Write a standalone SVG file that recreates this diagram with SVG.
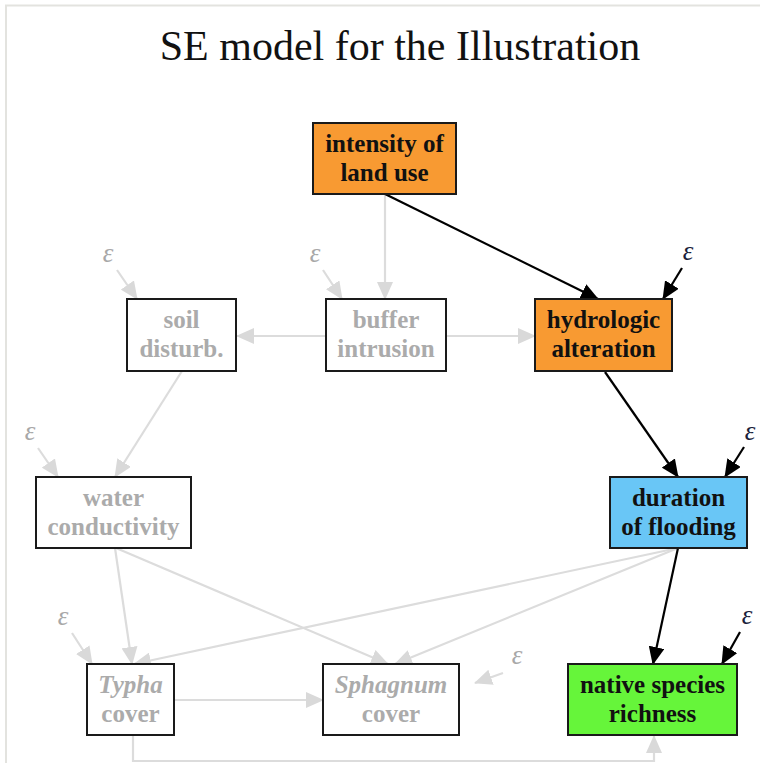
<svg xmlns="http://www.w3.org/2000/svg" width="760" height="763" viewBox="0 0 760 763">
<style>
.bg{fill:#ffffff}
.frame{stroke:#e3e3df;stroke-width:2;fill:none}
.title{font-family:"Liberation Serif",serif;font-size:42px;fill:#111111}
.box{stroke:#1a1a1a;stroke-width:2}
.lbl{font-family:"Liberation Serif",serif;font-size:25px;font-weight:bold;text-anchor:middle}
.dark{fill:#111111}
.grey{fill:#ababab}
.it{font-style:italic}
.eps{font-family:"Liberation Serif",serif;font-size:27px;font-style:italic;text-anchor:middle}
.epsk{fill:#1b1f3b}
.epsg{fill:#a8a8a8}
.ck{stroke:#000000;stroke-width:2.2;fill:none;marker-end:url(#ak)}
.cg{stroke:#dcdcdc;stroke-width:2.2;fill:none;marker-end:url(#ag)}
</style>
<defs>
<marker id="ak" markerUnits="userSpaceOnUse" markerWidth="18" markerHeight="16" viewBox="0 0 18 16" refX="17" refY="8" orient="auto"><path d="M0,0 L18,8 L0,16 z" fill="#000000"/></marker>
<marker id="ag" markerUnits="userSpaceOnUse" markerWidth="18" markerHeight="16" viewBox="0 0 18 16" refX="17" refY="8" orient="auto"><path d="M0,0 L18,8 L0,16 z" fill="#d9d9d9"/></marker>
</defs>
<rect class="bg" x="0" y="0" width="760" height="763"/>
<path class="frame" d="M6,763 V5.5 H760"/>
<text class="title" x="400" y="60" text-anchor="middle">SE model for the Illustration</text>

<g id="connectors">
<path class="cg" d="M385,194 L385,299"/>
<path class="cg" d="M326,336 L237,336"/>
<path class="cg" d="M446,336 L535,336"/>
<path class="cg" d="M182,371 L115,477"/>
<path class="cg" d="M115,548 L132,664"/>
<path class="cg" d="M116,548 L388,664"/>
<path class="cg" d="M678,548 L134,664"/>
<path class="cg" d="M678,548 L395,664"/>
<path class="cg" d="M174,700 L323,700"/>
<path class="cg" d="M133,735 V761 H654 V736"/>
<path class="ck" d="M385,194 L598,299"/>
<path class="ck" d="M605,372 L678,477"/>
<path class="ck" d="M678,548 L653,664"/>
<path class="cg" d="M117,270 L137,299"/>
<path class="cg" d="M323,270 L342,299"/>
<path class="cg" d="M38,448 L58,477"/>
<path class="cg" d="M72,633 L92,664"/>
<path class="cg" d="M503,673 L475,683"/>
<path class="ck" d="M682,268 L663,299"/>
<path class="ck" d="M744,447 L725,477"/>
<path class="ck" d="M740,632 L722,664"/>
</g>

<g id="eps">
<text class="eps epsg" x="108" y="262">ε</text>
<text class="eps epsg" x="315" y="262">ε</text>
<text class="eps epsk" x="688" y="260">ε</text>
<text class="eps epsg" x="30" y="440">ε</text>
<text class="eps epsk" x="750" y="440">ε</text>
<text class="eps epsg" x="63" y="625">ε</text>
<text class="eps epsk" x="747" y="624">ε</text>
<text class="eps epsg" x="517" y="664">ε</text>
</g>

<g id="intensity">
<rect class="box" x="313" y="123" width="143" height="71" fill="#f89a32"/>
<text class="lbl dark" x="384.5" y="152">intensity of</text>
<text class="lbl dark" x="384.5" y="181">land use</text>
</g>
<g id="soil">
<rect class="box" x="127" y="299" width="109" height="72" fill="#ffffff"/>
<text class="lbl grey" x="181.5" y="328">soil</text>
<text class="lbl grey" x="181.5" y="357">disturb.</text>
</g>
<g id="buffer">
<rect class="box" x="326" y="299" width="120" height="72" fill="#ffffff"/>
<text class="lbl grey" x="386" y="328">buffer</text>
<text class="lbl grey" x="386" y="357">intrusion</text>
</g>
<g id="hydrologic">
<rect class="box" x="535" y="299" width="137" height="72" fill="#f89a32"/>
<text class="lbl dark" x="603.5" y="328">hydrologic</text>
<text class="lbl dark" x="603.5" y="357">alteration</text>
</g>
<g id="water">
<rect class="box" x="36" y="477" width="155" height="71" fill="#ffffff"/>
<text class="lbl grey" x="113.5" y="506">water</text>
<text class="lbl grey" x="113.5" y="535">conductivity</text>
</g>
<g id="duration">
<rect class="box" x="610" y="477" width="137" height="71" fill="#69c6f6"/>
<text class="lbl dark" x="678.5" y="506">duration</text>
<text class="lbl dark" x="678.5" y="535">of flooding</text>
</g>
<g id="typha">
<rect class="box" x="87" y="664" width="87" height="71" fill="#ffffff"/>
<text class="lbl grey it" x="130.5" y="693">Typha</text>
<text class="lbl grey" x="130.5" y="722">cover</text>
</g>
<g id="sphagnum">
<rect class="box" x="323" y="664" width="136" height="71" fill="#ffffff"/>
<text class="lbl grey it" x="391" y="693">Sphagnum</text>
<text class="lbl grey" x="391" y="722">cover</text>
</g>
<g id="native">
<rect class="box" x="568" y="664" width="169" height="71" fill="#66f53a"/>
<text class="lbl dark" x="652.5" y="693">native species</text>
<text class="lbl dark" x="652.5" y="722">richness</text>
</g>
</svg>
